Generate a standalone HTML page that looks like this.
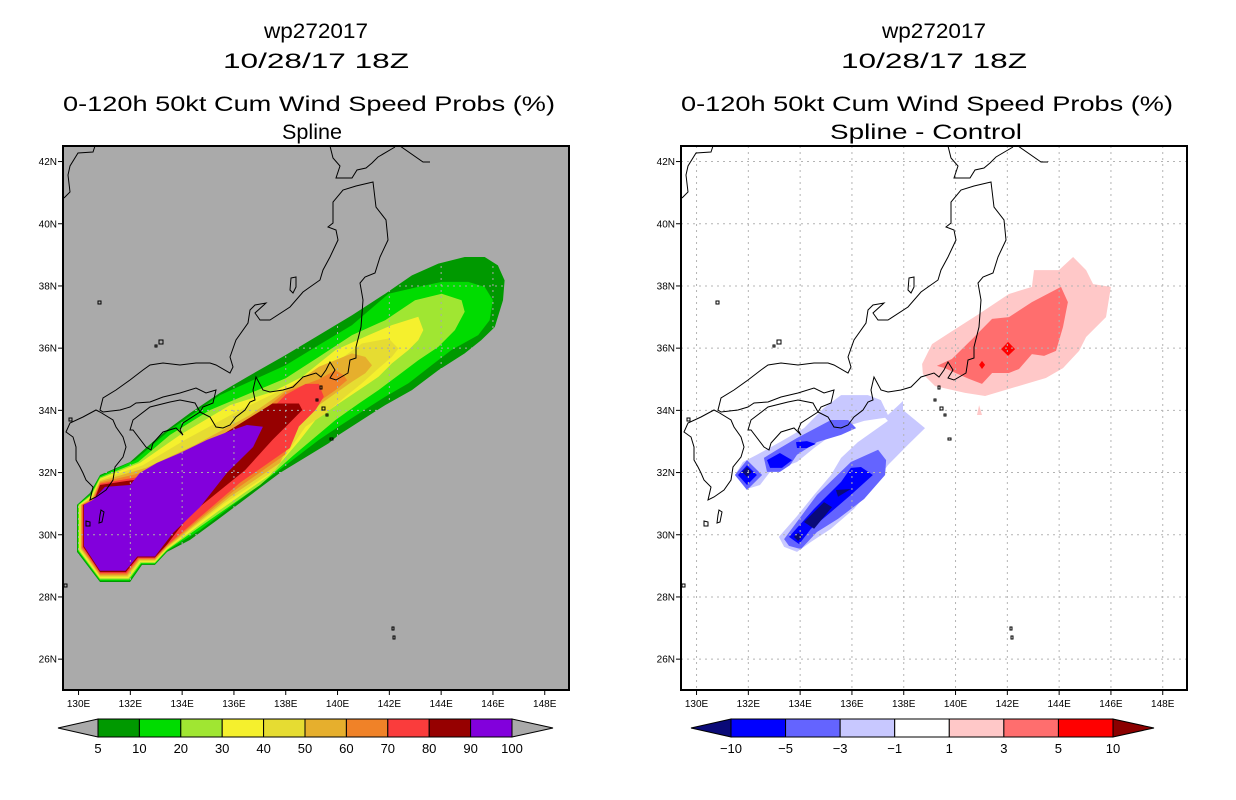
<!DOCTYPE html>
<html><head><meta charset="utf-8"><title>wp272017 wind speed probs</title>
<style>
html,body{margin:0;padding:0;background:#fff;}
svg{display:block;}
text{font-family:"Liberation Sans",sans-serif;fill:#000;}
.ttl{font-size:21px;}
.tick{font-size:10px;}
.cbl{font-size:13px;}
</style></head>
<body>
<svg id="chart" xmlns="http://www.w3.org/2000/svg" width="1236" height="800" viewBox="0 0 1236 800">
<rect x="0" y="0" width="1236" height="800" fill="#fff"/>
<defs>
<clipPath id="clipL"><rect x="63" y="146" width="506" height="544"/></clipPath>
<clipPath id="clipR"><rect x="681" y="146" width="506" height="544"/></clipPath>
</defs>
<g>
<text class="ttl" x="316" y="38" text-anchor="middle" textLength="104" lengthAdjust="spacingAndGlyphs">wp272017</text>
<text class="ttl" x="316" y="68" text-anchor="middle" textLength="186" lengthAdjust="spacingAndGlyphs">10/28/17 18Z</text>
<text class="ttl" x="309" y="111" text-anchor="middle" textLength="492" lengthAdjust="spacingAndGlyphs">0-120h 50kt Cum Wind Speed Probs (%)</text>
<text class="ttl" x="312" y="139" text-anchor="middle" textLength="60" lengthAdjust="spacingAndGlyphs">Spline</text>
</g>
<g>
<text class="ttl" x="934" y="38" text-anchor="middle" textLength="104" lengthAdjust="spacingAndGlyphs">wp272017</text>
<text class="ttl" x="934" y="68" text-anchor="middle" textLength="186" lengthAdjust="spacingAndGlyphs">10/28/17 18Z</text>
<text class="ttl" x="927" y="111" text-anchor="middle" textLength="492" lengthAdjust="spacingAndGlyphs">0-120h 50kt Cum Wind Speed Probs (%)</text>
<text class="ttl" x="926" y="139" text-anchor="middle" textLength="192" lengthAdjust="spacingAndGlyphs">Spline - Control</text>
</g>
<g id="leftPanel"></g>
<g id="rightPanel"></g>
<g id="cbars"></g>
</svg>
<script>
// ---- data: contour polygons as [lon, lat] ----
const probLevels = [5,10,20,30,40,50,60,70,80,90];
const probColors = ['#009900','#00dc00','#a0e632','#f5f02d','#e6dc32','#e6af2d','#f08228','#fa3c3c','#960000','#8200dc'];
const prob5 = [[129.94,30.96],[129.94,29.45],[130.83,28.48],[131.99,28.48],[132.45,29.03],[132.95,29.03],[133.42,29.45],[134.30,29.83],[135.35,30.47],[136.74,31.34],[137.78,31.99],[139.66,32.94],[140.05,33.21],[140.94,33.69],[141.84,34.17],[142.87,34.65],[143.89,35.29],[144.91,35.83],[145.55,36.26],[146.07,36.68],[146.39,37.54],[146.45,38.18],[146.19,38.66],[145.68,38.93],[144.91,38.93],[143.89,38.72],[142.87,38.34],[141.84,37.75],[140.56,37.06],[139.28,36.42],[138.00,35.78],[136.50,35.07],[135.46,34.56],[134.30,33.91],[133.42,33.37],[132.64,32.82],[131.99,32.34],[130.83,31.92],[130.44,31.34]];
const prob10 = [[129.97,30.96],[129.97,29.47],[130.83,28.52],[131.97,28.52],[132.43,29.06],[132.95,29.06],[133.42,29.48],[134.69,30.15],[136.23,31.12],[138.16,32.34],[139.28,33.05],[140.05,33.48],[140.94,33.96],[141.84,34.44],[142.74,34.87],[143.63,35.45],[144.40,35.94],[145.43,36.42],[145.87,36.90],[146.00,37.54],[145.68,37.97],[145.04,38.13],[144.02,38.13],[143.12,37.97],[141.97,37.75],[140.56,36.74],[139.28,36.10],[138.00,35.45],[135.46,34.49],[133.53,33.37],[132.18,32.40],[130.83,31.88],[130.46,31.31]];
const prob20 = [[130.00,30.96],[130.00,29.49],[130.83,28.56],[131.95,28.56],[132.41,29.09],[132.95,29.09],[133.42,29.51],[135.08,30.48],[137.01,31.60],[138.30,32.55],[139.92,33.69],[140.82,34.22],[141.58,34.65],[142.35,35.13],[143.12,35.61],[143.89,36.04],[144.53,36.58],[144.91,37.17],[144.79,37.54],[144.02,37.75],[142.99,37.54],[141.84,36.90],[140.56,36.42],[139.28,35.72],[138.00,35.03],[135.08,34.01],[133.53,33.21],[132.30,32.34],[130.83,31.84],[130.48,31.28]];
const prob30 = [[130.03,30.96],[130.03,29.51],[130.83,28.60],[131.93,28.60],[132.39,29.12],[132.95,29.12],[133.42,29.54],[135.46,30.80],[137.39,31.92],[138.51,33.00],[139.15,33.69],[140.05,34.22],[140.82,34.65],[141.58,35.08],[142.10,35.51],[142.74,35.94],[143.12,36.26],[143.31,36.58],[143.12,37.01],[142.10,36.74],[141.20,36.42],[139.92,35.94],[138.64,35.08],[137.50,34.60],[135.85,34.17],[133.92,33.21],[132.37,32.31],[130.83,31.80],[130.50,31.25]];
const prob40 = [[130.06,30.96],[130.06,29.53],[130.83,28.64],[131.91,28.64],[132.37,29.15],[132.95,29.15],[133.42,29.57],[135.65,31.02],[137.59,32.08],[138.77,33.48],[139.54,33.90],[140.30,34.44],[140.94,34.87],[141.58,35.35],[142.10,35.72],[142.35,35.99],[141.97,36.31],[140.94,36.15],[140.05,35.61],[138.64,34.87],[138.00,34.72],[137.20,34.40],[136.23,34.01],[134.11,33.05],[132.49,32.24],[130.83,31.76],[130.52,31.22]];
const prob50 = [[130.09,30.96],[130.09,29.55],[130.83,28.68],[131.89,28.68],[132.35,29.18],[132.95,29.18],[133.42,29.60],[135.85,31.22],[137.78,32.31],[138.51,33.69],[139.28,34.17],[139.92,34.55],[140.56,34.92],[141.07,35.19],[141.33,35.45],[141.07,35.72],[140.56,35.83],[139.28,35.40],[138.00,34.65],[136.62,33.85],[134.50,32.89],[132.60,32.15],[130.83,31.72],[130.54,31.19]];
const prob60 = [[130.12,30.96],[130.12,29.57],[130.83,28.72],[131.87,28.72],[132.33,29.21],[132.95,29.21],[133.42,29.63],[136.04,31.44],[137.97,32.57],[138.38,33.80],[139.28,34.28],[139.92,34.65],[140.37,34.97],[140.24,35.13],[139.92,35.29],[139.28,35.00],[138.00,34.60],[137.01,33.90],[134.88,32.73],[132.76,32.05],[130.83,31.68],[130.56,31.16]];
const prob70 = [[130.15,30.96],[130.15,29.59],[130.83,28.76],[131.85,28.76],[132.31,29.24],[132.95,29.24],[133.42,29.66],[136.23,31.67],[138.16,32.79],[138.51,33.48],[139.15,34.01],[139.47,34.44],[139.28,34.85],[138.77,34.85],[138.00,34.50],[137.01,33.69],[135.08,32.57],[132.95,31.95],[130.83,31.64],[130.58,31.13]];
const prob80 = [[130.18,30.96],[130.18,29.61],[130.83,28.80],[131.83,28.80],[132.29,29.27],[132.95,29.27],[133.42,29.69],[134.30,30.64],[136.43,32.08],[137.49,33.05],[138.13,33.58],[138.64,34.01],[138.51,34.22],[137.49,34.22],[135.85,33.37],[134.30,32.57],[133.15,31.89],[130.83,31.60],[130.60,31.10]];
const prob90 = [[130.21,30.96],[130.21,29.63],[130.83,28.84],[131.81,28.84],[132.27,29.30],[132.95,29.30],[133.65,30.06],[134.69,30.89],[135.73,31.99],[136.74,32.82],[137.12,33.47],[136.50,33.53],[135.96,33.37],[134.96,33.05],[133.92,32.63],[133.03,32.31],[132.37,31.99],[131.99,31.60],[131.02,31.54],[130.56,31.12]];
const probPolys = [prob5,prob10,prob20,prob30,prob40,prob50,prob60,prob70,prob80,prob90];

const diffColors = ['#0a0a78','#0000ff','#6464ff','#c8c8ff','#ffffff','#ffc8c8','#ff6e6e','#ff0000','#8b0000'];
const diffLabels = ['-10','-5','-3','-1','1','3','5','10'];
const diffNeg1 = [[135.58,34.49],[136.62,34.49],[137.12,34.33],[137.39,33.85],[137.97,34.30],[137.97,34.01],[138.82,33.43],[138.16,32.89],[137.39,32.24],[136.74,31.47],[136.08,30.83],[135.19,30.19],[134.42,29.77],[133.88,29.45],[133.38,29.61],[133.18,29.93],[133.88,30.60],[134.54,31.28],[135.19,31.92],[135.58,32.47],[136.23,32.98],[137.39,33.66],[137.28,33.76],[136.47,33.66],[135.58,33.43],[134.54,32.79],[133.88,32.34],[132.84,32.02],[132.45,31.60],[131.95,31.47],[131.48,31.92],[131.79,32.34],[132.33,32.57],[133.22,32.98],[134.15,33.43],[134.92,34.08]];
const diffNeg3a = [[133.88,33.11],[135.19,33.69],[135.85,33.69],[136.16,33.43],[135.58,33.21],[134.65,32.98],[133.88,32.57],[133.61,32.24],[133.22,32.02],[132.72,32.02],[132.60,32.47],[133.11,32.73]];
const diffNeg3b = [[131.48,31.92],[131.95,32.40],[132.53,31.92],[131.95,31.44]];
const diffNeg3c = [[133.38,29.86],[134.65,31.28],[135.96,32.34],[137.01,32.73],[137.32,32.40],[137.28,31.92],[136.47,31.15],[135.46,30.51],[134.65,30.09],[134.03,29.54],[133.57,29.64]];
const diffNeg5a = [[133.84,32.98],[134.26,33.01],[134.61,32.92],[134.26,32.79],[133.88,32.79]];
const diffNeg5b = [[132.72,32.40],[133.22,32.63],[133.69,32.40],[133.30,32.15],[132.84,32.15]];
const diffNeg5c = [[131.60,31.92],[131.95,32.24],[132.33,31.92],[131.95,31.60]];
const diffNeg5d = [[133.57,29.93],[134.54,30.83],[135.58,31.70],[135.96,32.15],[136.35,32.18],[136.81,31.92],[135.96,31.28],[135.19,30.73],[134.42,30.19],[133.96,29.70]];
const diffNeg10a = [[131.76,32.02],[131.95,32.18],[132.14,32.02],[131.95,31.86]];
const diffNeg10b = [[134.15,30.41],[134.92,31.05],[135.23,30.89],[134.54,30.19]];
const diffNeg10c = [[135.38,31.44],[135.96,31.47],[135.46,31.22]];
const diffNeg10d = [[133.76,29.93],[133.92,30.06],[134.07,29.93],[133.92,29.80]];
const diffPos1a = [[138.71,35.49],[139.09,36.13],[139.71,36.46],[140.91,37.10],[142.06,37.74],[142.95,37.97],[143.03,38.51],[143.99,38.51],[144.54,38.93],[145.04,38.51],[145.31,38.06],[146.00,37.97],[145.81,37.00],[145.04,36.36],[144.77,35.91],[144.15,35.36],[143.49,35.04],[142.18,34.72],[141.14,34.46],[140.37,34.56],[139.21,34.78],[138.74,35.17]];
const diffPos1b = [[140.91,34.17],[141.02,33.85],[140.83,33.85]];
const diffPos3 = [[139.28,35.43],[139.86,35.65],[140.64,36.29],[141.41,36.94],[142.06,37.00],[142.95,37.48],[144.07,37.97],[144.34,37.48],[144.15,36.68],[143.88,35.91],[143.42,35.75],[142.95,35.81],[142.45,35.33],[142.06,35.20],[141.41,35.20],[141.02,34.85],[140.52,35.01],[140.09,35.17],[139.59,35.36]];
const diffPos5a = [[141.76,35.97],[142.03,36.20],[142.30,35.97],[142.03,35.75]];
const diffPos5b = [[140.91,35.46],[141.02,35.59],[141.14,35.46],[141.02,35.33]];
const diffPolys = [
  {p:diffNeg1,c:3,n:'diff-minus1-region'},{p:diffNeg3a,c:2,n:'diff-minus3-region'},{p:diffNeg3b,c:2,n:'diff-minus3-region'},{p:diffNeg3c,c:2,n:'diff-minus3-region'},
  {p:diffNeg5a,c:1,n:'diff-minus5-region'},{p:diffNeg5b,c:1,n:'diff-minus5-region'},{p:diffNeg5c,c:1,n:'diff-minus5-region'},{p:diffNeg5d,c:1,n:'diff-minus5-region'},
  {p:diffNeg10a,c:0,n:'diff-minus10-region'},{p:diffNeg10b,c:0,n:'diff-minus10-region'},{p:diffNeg10c,c:0,n:'diff-minus10-region'},{p:diffNeg10d,c:0,n:'diff-minus10-region'},
  {p:diffPos1a,c:5,n:'diff-plus1-region'},{p:diffPos1b,c:5,n:'diff-plus1-region'},{p:diffPos3,c:6,n:'diff-plus3-region'},
  {p:diffPos5a,c:7,n:'diff-plus5-region'},{p:diffPos5b,c:7,n:'diff-plus5-region'}
];
const latTicks = [26,28,30,32,34,36,38,40,42];
const lonTicks = [130,132,134,136,138,140,142,144,146,148];

// ---- axis functions ----
const NS = 'http://www.w3.org/2000/svg';
function X(lon, off){ return off + 63 + (lon - 129.4) * 25.9; }
function Y(lat){ return 146 + (42.5 - lat) * 31.1; }
function mk(tag, attrs, parent){
  const e = document.createElementNS(NS, tag);
  for (const k in attrs) e.setAttribute(k, attrs[k]);
  parent.appendChild(e); return e;
}
function polyPts(poly, off){ return poly.map(p => X(p[0],off).toFixed(1)+','+Y(p[1]).toFixed(1)).join(' '); }

const coastLines = [
 "M100,410 L103,398 L116,390 L130,380 L143,370 L150,365 L163,363 L180,365 L196,363 L210,363 L216,365 L230,373 L233,367 L230,357 L236,340 L248,323 L250,310 L255,305 L266,303 L255,313 L260,320 L270,320 L290,307 L303,292 L310,287 L320,280 L323,270 L330,257 L338,240 L336,230 L328,227 L333,223 L333,202 L343,190 L356,186 L373,182 L376,207 L386,220 L388,240 L380,257 L375,273 L365,277 L360,283 L363,300 L361,327 L356,347 L356,358 L350,360 L348,373 L336,380 L330,378 L335,370 L330,362 L326,370 L321,377 L316,373 L303,377 L293,387 L283,390 L270,392 L263,390 L256,377 L253,390 L255,400 L250,402 L245,410 L236,417 L230,425 L223,428 L216,427 L210,417 L200,412 L203,407 L213,403 L216,390 L206,393 L196,388 L180,393 L163,397 L150,402 L136,403 L130,407 L120,410 L103,412 Z",
 "M133,420 L150,407 L170,402 L180,400 L195,403 L200,412 L183,423 L180,430 L183,435 L176,428 L163,432 L153,443 L151,450 L146,447 L133,430 L130,430 Z",
 "M100,412 L113,420 L116,427 L123,437 L126,447 L123,457 L115,467 L113,480 L106,490 L96,497 L90,500 L93,487 L86,480 L83,473 L80,467 L76,460 L76,447 L73,437 L66,432 L70,423 L83,417 L96,410 Z",
 "M330,146 L333,158 L340,166 L336,178 L352,178 L357,170 L366,168 L372,163 L378,157 L395,147",
 "M400,146 L423,162 L430,162",
 "M95,146 L93,152 L78,153 L70,166 L68,175 L70,192 L64,198",
 "M291,278 L296,277 L296,287 L293,293 L290,290 Z",
 "M101,510 L104,512 L102,522 L99,523 L100,515 Z",
 "M86,521 L90,522 L90,526 L86,526 Z",
 "M98,301 L101,301 L101,304 L98,304 Z",
 "M159,340 L163,340 L163,344 L159,344 Z",
 "M155,345 L157,345 L157,347 L155,347 Z",
 "M316,399 L318,399 L318,401 L316,401 Z",
 "M320,386 L322,386 L322,389 L320,389 Z",
 "M322,407 L325,407 L325,410 L322,410 Z",
 "M326,414 L328,414 L328,416 L326,416 Z",
 "M330,438 L333,438 L333,440 L330,440 Z",
 "M392,627 L394,627 L394,630 L392,630 Z",
 "M393,636 L395,636 L395,639 L393,639 Z",
 "M69,418 L72,418 L72,421 L69,421 Z",
 "M64,584 L67,584 L67,587 L64,587 Z"
];

function buildPanel(g, off, bg, gridColor, clipId, drawFill){
  const clipG = mk('g', {'clip-path':'url(#'+clipId+')'}, g);
  const bgR = mk('rect', {x:off+63, y:146, width:506, height:544, fill:bg}, clipG);
  
  
  drawFill(clipG);
  const grid = mk('g', {stroke:gridColor, 'stroke-width':1, 'stroke-dasharray':'2,4', fill:'none'}, clipG);
  
  
  lonTicks.forEach(l => { const x = X(l,off); mk('line', {x1:x, y1:146, x2:x, y2:690}, grid); });
  latTicks.forEach(l => { const y = Y(l); mk('line', {x1:off+63, y1:y, x2:off+569, y2:y}, grid); });
  const coast = mk('g', {stroke:'#000', 'stroke-width':1, fill:'none', transform:'translate('+off+',0)'}, clipG);
  
  
  coastLines.forEach(d => mk('path', {d:d}, coast));
  const frame = mk('rect', {x:off+63, y:146, width:506, height:544, fill:'none', stroke:'#000', 'stroke-width':2}, g);
  
  
  const ax = mk('g', {}, g);
  
  
  latTicks.forEach(l => {
    const y = Y(l);
    mk('line', {x1:off+58, y1:y, x2:off+63, y2:y, stroke:'#000', 'stroke-width':1}, ax);
    const t = mk('text', {x:off+57, y:y+3.5, 'text-anchor':'end', class:'tick'}, ax);
    
    
    t.textContent = l + 'N';
  });
  lonTicks.forEach(l => {
    const x = X(l,off);
    mk('line', {x1:x, y1:690, x2:x, y2:695, stroke:'#000', 'stroke-width':1}, ax);
    const t = mk('text', {x:x, y:707, 'text-anchor':'middle', class:'tick'}, ax);
    
    
    t.textContent = l + 'E';
  });
}

buildPanel(document.getElementById('leftPanel'), 0, '#aaaaaa', '#aaaaaa', 'clipL', function(g){
  probPolys.forEach((poly, i) => {
    const p = mk('polygon', {points:polyPts(poly,0), fill:probColors[i]}, g);
    
    
  });
});
buildPanel(document.getElementById('rightPanel'), 618, '#ffffff', '#b4b4b4', 'clipR', function(g){
  diffPolys.forEach(d => {
    const p = mk('polygon', {points:polyPts(d.p,618), fill:diffColors[d.c]}, g);
    
    
  });
});

const cb = document.getElementById('cbars');
function colorbar(x0, x1, boxes, colors, lowTri, highTri, labels, name){
  const g = mk('g', {}, cb);
  
  
  const y0 = 719, y1 = 737, ym = 728;
  const w = (x1 - x0) / boxes;
  const tl = mk('polygon', {points:(x0-40)+','+ym+' '+x0+','+y0+' '+x0+','+y1, fill:lowTri, stroke:'#000', 'stroke-width':1}, g);
  
  
  const tr = mk('polygon', {points:(x1+41)+','+ym+' '+x1+','+y0+' '+x1+','+y1, fill:highTri, stroke:'#000', 'stroke-width':1}, g);
  
  
  for (let i = 0; i < boxes; i++){
    const r = mk('rect', {x:x0+i*w, y:y0, width:w, height:y1-y0, fill:colors[i], stroke:'#000', 'stroke-width':1}, g);
    
    
  }
  labels.forEach((lab, i) => {
    const t = mk('text', {x:x0+i*w, y:753, 'text-anchor':'middle', class:'cbl'}, g);
    
    
    t.textContent = lab;
  });
}
colorbar(98, 512, 10, probColors, '#aaaaaa', '#aaaaaa', ['5','10','20','30','40','50','60','70','80','90','100'], 'left-colorbar');
colorbar(731, 1113, 7, diffColors.slice(1,8), diffColors[0], diffColors[8], diffLabels.map(s => s.replace('-','\u2212')), 'right-colorbar');
</script>
</body></html>
